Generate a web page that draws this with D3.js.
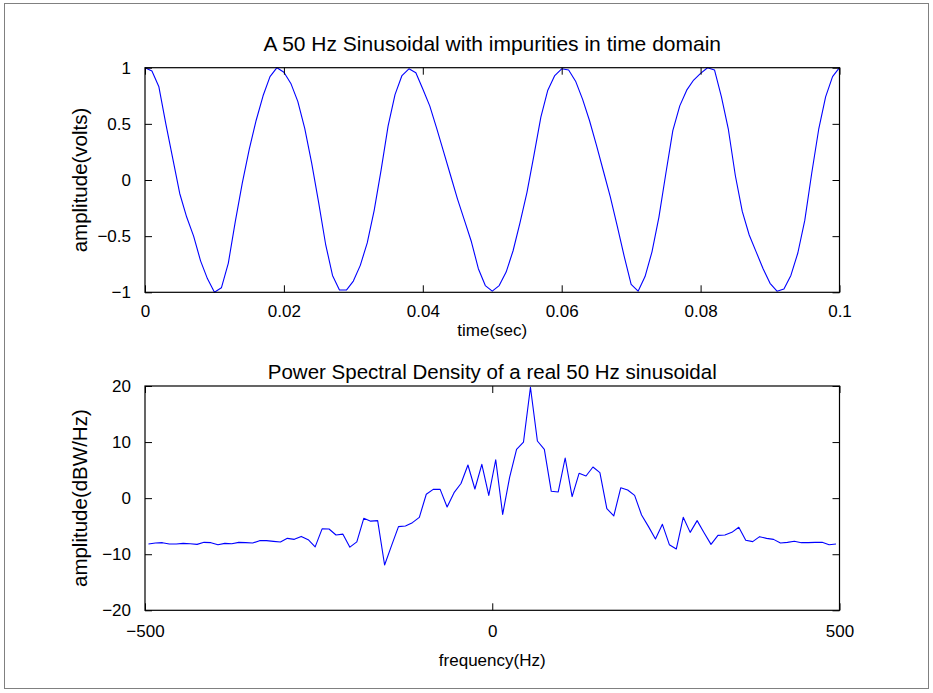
<!DOCTYPE html>
<html>
<head>
<meta charset="utf-8">
<script src="https://cdn.jsdelivr.net/npm/d3@7"></script>
<style>
  html, body { margin: 0; padding: 0; background: #fff; }
  svg { display: block; }
  text { font-family: "Liberation Sans", Arial, Helvetica, sans-serif; fill: #000; }
</style>
</head>
<body>
<svg id="chart" width="933" height="693"></svg>
<script>
// ---------- DATA ----------
const sampleRate = 1000; // Hz
// time-domain signal, one sample per 1 ms from 0 to 0.1 s
const timeSignal = [
  1.00, 0.97, 0.83, 0.50, 0.19, -0.12, -0.33, -0.50, -0.72, -0.88,
  -1.00, -0.96, -0.74, -0.37, -0.03, 0.27, 0.53, 0.75, 0.92, 1.00,
  0.96, 0.86, 0.70, 0.46, 0.15, -0.20, -0.57, -0.85, -0.98, -0.98,
  -0.90, -0.76, -0.56, -0.27, 0.09, 0.48, 0.76, 0.93, 0.99, 0.955,
  0.81, 0.66, 0.46, 0.25, 0.04, -0.17, -0.36, -0.55, -0.79, -0.94,
  -0.99, -0.94, -0.82, -0.63, -0.38, -0.11, 0.22, 0.56, 0.80, 0.93,
  0.99, 0.98, 0.88, 0.72, 0.53, 0.31, 0.08, -0.15, -0.41, -0.68,
  -0.93, -0.99, -0.86, -0.64, -0.33, 0.06, 0.44, 0.66, 0.80, 0.89,
  0.95, 1.00, 0.98, 0.74, 0.45, 0.04, -0.28, -0.49, -0.64, -0.79,
  -0.92, -0.99, -0.97, -0.85, -0.65, -0.36, 0.06, 0.45, 0.74, 0.92,
  1.00
];
// PSD values (dBW/Hz), bins centred at -495, -485, ..., 495 Hz
const psdStartHz = -495;
const psdStepHz = 10;
const psdValues = [
  -8.18, -8.00, -7.94, -8.18, -8.18, -8.06, -8.12, -8.24, -7.88, -7.94,
  -8.30, -8.06, -8.12, -7.88, -7.94, -8.00, -7.58, -7.58, -7.70, -7.82,
  -7.17, -7.35, -6.82, -7.41, -8.68, -5.47, -5.50, -6.57, -6.42, -8.74,
  -7.80, -3.60, -4.10, -4.01, -11.92, -8.47, -5.08, -4.97, -4.37, -3.42,
  0.69, 1.57, 1.57, -1.58, 0.98, 2.62, 5.91, 1.63, 6.03, 0.49,
  6.85, -2.89, 3.72, 8.71, 10.01, 19.77, 10.19, 8.71, 1.22, 1.10,
  7.16, 0.28, 4.43, 3.95, 5.56, 4.55, -1.85, -3.18, 1.85, 1.45,
  0.49, -3.00, -5.08, -7.28, -4.67, -8.30, -9.07, -3.42, -6.10, -4.01,
  -6.16, -8.24, -6.63, -6.57, -6.10, -5.20, -7.52, -7.76, -6.87, -7.17,
  -7.35, -8.00, -7.88, -7.70, -7.94, -7.94, -7.88, -7.88, -8.30, -8.18
];
const timeTicks = [0, 0.02, 0.04, 0.06, 0.08, 0.1];
const timeTickLabels = ["0", "0.02", "0.04", "0.06", "0.08", "0.1"];
const voltTicks = [-1, -0.5, 0, 0.5, 1];
const voltTickLabels = ["\u22121", "\u22120.5", "0", "0.5", "1"];
const freqTicks = [-500, 0, 500];
const freqTickLabels = ["\u2212500", "0", "500"];
const dbTicks = [-20, -10, 0, 10, 20];
const dbTickLabels = ["\u221220", "\u221210", "0", "10", "20"];

const titles = {
  top: "A 50 Hz Sinusoidal with impurities in time domain",
  bottom: "Power Spectral Density of a real 50 Hz sinusoidal"
};

// ---------- LAYOUT ----------
const svg = d3.select("#chart");
const W = 933, H = 693;
const FS = 17;      // tick labels, x labels
const plotLeft = 145, plotRight = 839.5;

svg.append("rect").attr("x", 0).attr("y", 0).attr("width", W).attr("height", H).attr("fill", "#fff");
svg.append("rect").attr("x", 4.5).attr("y", 3.5).attr("width", 924).attr("height", 685)
  .attr("fill", "none").attr("stroke", "#808080").attr("stroke-width", 1);

function panel(opts) {
  const { top, bottom, xDomain, yDomain, xTicks, xLabels, yTicks, yLabels, data,
          title, titleY, titleSize, xLabel, xLabelY, yLabel, yLabelSize, xTickPad } = opts;
  const x = d3.scaleLinear().domain(xDomain).range([plotLeft, plotRight]);
  const y = d3.scaleLinear().domain(yDomain).range([bottom, top]);
  const g = svg.append("g");
  const tickLen = 7;

  const line = d3.line().x(d => x(d[0])).y(d => y(d[1]));
  g.append("path").datum(data).attr("d", line)
    .attr("fill", "none").attr("stroke", "#0000ff").attr("stroke-width", 1.1)
    .attr("stroke-linejoin", "round");

  g.append("rect").attr("x", plotLeft).attr("y", top)
    .attr("width", plotRight - plotLeft).attr("height", bottom - top)
    .attr("fill", "none").attr("stroke", "#000").attr("stroke-width", 1.2);

  const bottomAxis = d3.axisBottom(x).tickValues(xTicks).tickSize(-tickLen)
    .tickFormat((d, i) => xLabels[i]).tickPadding(xTickPad + tickLen);
  const topAxis = d3.axisTop(x).tickValues(xTicks).tickSize(-tickLen).tickFormat("");
  const leftAxis = d3.axisLeft(y).tickValues(yTicks).tickSize(-tickLen)
    .tickFormat((d, i) => yLabels[i]).tickPadding(7 + tickLen);
  const rightAxis = d3.axisRight(y).tickValues(yTicks).tickSize(-tickLen).tickFormat("");

  const axB = g.append("g").attr("transform", `translate(0,${bottom})`).call(bottomAxis);
  const axT = g.append("g").attr("transform", `translate(0,${top})`).call(topAxis);
  const axL = g.append("g").attr("transform", `translate(${plotLeft},0)`).call(leftAxis);
  const axR = g.append("g").attr("transform", `translate(${plotRight},0)`).call(rightAxis);
  [axB, axT, axL, axR].forEach(a => {
    a.select(".domain").remove();
    a.selectAll(".tick line").attr("stroke", "#000").attr("stroke-width", 1);
    a.selectAll("text").attr("font-size", FS).attr("font-family", '"Liberation Sans", Arial, sans-serif').attr("fill", "#000");
  });

  g.append("text").attr("x", (plotLeft + plotRight) / 2).attr("y", titleY)
    .attr("text-anchor", "middle").attr("dy", "0.35em").attr("font-size", titleSize).text(title);
  g.append("text").attr("x", (plotLeft + plotRight) / 2).attr("y", xLabelY)
    .attr("text-anchor", "middle").attr("dy", "0.35em").attr("font-size", FS).text(xLabel);
  g.append("text").attr("transform", `translate(80,${(top + bottom) / 2}) rotate(-90)`)
    .attr("text-anchor", "middle").attr("dy", "0.35em").attr("font-size", yLabelSize).text(yLabel);
}

const timeData = timeSignal.map((v, i) => [i / sampleRate, v]);
const psdData = psdValues.map((v, i) => [psdStartHz + i * psdStepHz, v]);

panel({
  top: 67.7, bottom: 292.3, xDomain: [0, 0.1], yDomain: [-1, 1],
  xTicks: timeTicks, xLabels: timeTickLabels, yTicks: voltTicks, yLabels: voltTickLabels,
  data: timeData, title: titles.top, titleY: 44, titleSize: 21, xLabel: "time(sec)", xLabelY: 330,
  yLabel: "amplitude(volts)", yLabelSize: 20.5, xTickPad: 6
});
panel({
  top: 386, bottom: 610.3, xDomain: [-500, 500], yDomain: [-20, 20],
  xTicks: freqTicks, xLabels: freqTickLabels, yTicks: dbTicks, yLabels: dbTickLabels,
  data: psdData, title: titles.bottom, titleY: 372, titleSize: 20.5, xLabel: "frequency(Hz)", xLabelY: 660,
  yLabel: "amplitude(dBW/Hz)", yLabelSize: 20.5, xTickPad: 8
});
</script>
</body>
</html>
